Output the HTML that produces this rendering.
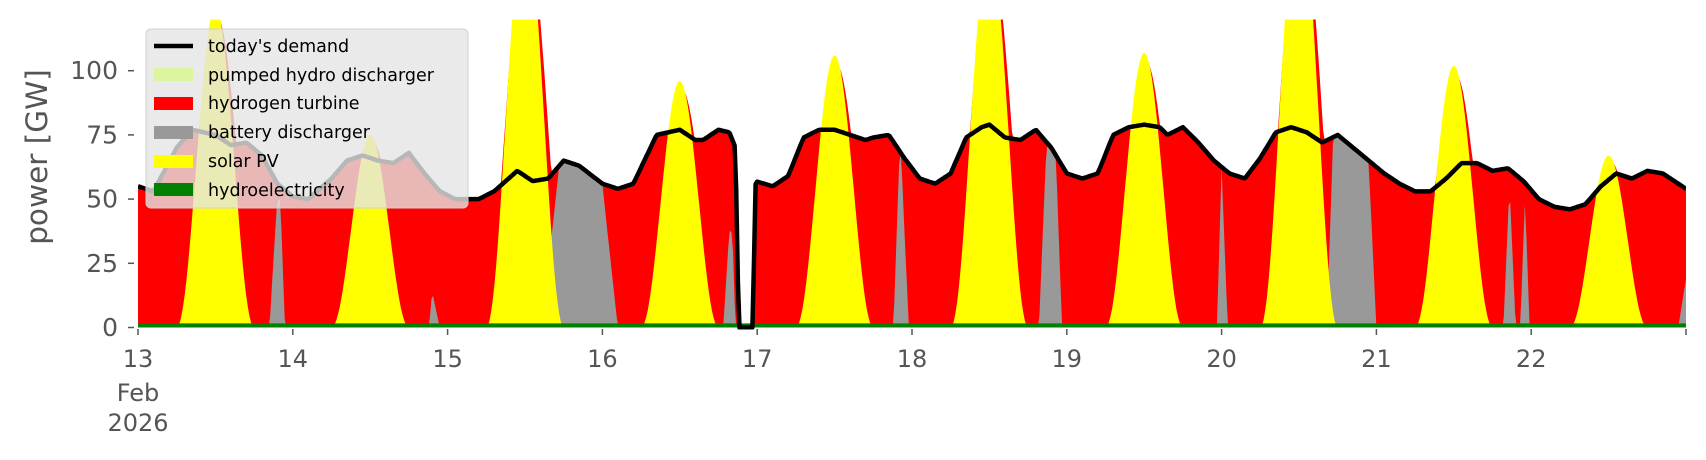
<!DOCTYPE html>
<html><head><meta charset="utf-8"><style>
html,body{margin:0;padding:0;background:#fff;}
svg{display:block;font-family:"DejaVu Sans","Liberation Sans",sans-serif;}
</style></head><body>
<svg id="s" width="1706" height="460" viewBox="0 0 1706 460" xmlns="http://www.w3.org/2000/svg">
<defs><clipPath id="c"><rect x="138" y="19.5" width="1548" height="310"/></clipPath></defs>
<g id="plot" clip-path="url(#c)"></g>
<g id="axes" fill="#555" font-size="24"></g>
<text x="0" y="0" transform="translate(47,157) rotate(-90)" text-anchor="middle" font-size="29.5" fill="#555">power [GW]</text>
<g>
<rect x="146" y="29" width="322" height="179" rx="5" fill="#e5e5e5" fill-opacity="0.8" stroke="#d0d0d0"/>
<line x1="154" y1="46" x2="193" y2="46" stroke="#000" stroke-width="4.5"/>
<rect x="154" y="68" width="39" height="13" fill="#dcf5a0"/>
<rect x="154" y="97" width="39" height="13" fill="#ff0000"/>
<rect x="154" y="126" width="39" height="13" fill="#999"/>
<rect x="154" y="155" width="39" height="13" fill="#ffff00"/>
<rect x="154" y="183" width="39" height="13" fill="#008000"/>
<g font-size="17.5" fill="#000">
<text x="208" y="52">today's demand</text>
<text x="208" y="81">pumped hydro discharger</text>
<text x="208" y="109">hydrogen turbine</text>
<text x="208" y="138">battery discharger</text>
<text x="208" y="167">solar PV</text>
<text x="208" y="196">hydroelectricity</text>
</g></g>
</svg>
<script>
var X=t=>138+(t-13)*154.8, Y=v=>327.5-v*2.568;
var dk=[[13,55],[13.1,53],[13.25,70],[13.35,77],[13.5,75],[13.6,71],[13.7,72],[13.8,67],[13.9,56],[14,51],[14.1,50],[14.25,58],[14.35,65],[14.45,67],[14.55,65],[14.65,64],[14.75,68],[14.85,60],[14.95,53],[15.05,50],[15.2,50],[15.3,53],[15.45,61],[15.55,57],[15.65,58],[15.75,65],[15.85,63],[16,56],[16.1,54],[16.2,56],[16.35,75],[16.5,77],[16.6,73],[16.65,73],[16.75,77],[16.82,76],[16.86,70],[16.88,0],[16.97,0],[16.99,57],[17.1,55],[17.2,59],[17.3,74],[17.4,77],[17.5,77],[17.6,75],[17.7,73],[17.75,74],[17.85,75],[17.95,66],[18.05,58],[18.15,56],[18.25,60],[18.35,74],[18.45,78],[18.5,79],[18.6,74],[18.7,73],[18.8,77],[18.9,70],[19,60],[19.1,58],[19.2,60],[19.3,75],[19.4,78],[19.5,79],[19.6,78],[19.65,75],[19.75,78],[19.85,72],[19.95,65],[20.05,60],[20.15,58],[20.25,66],[20.35,76],[20.45,78],[20.55,76],[20.65,72],[20.75,75],[20.85,70],[20.95,65],[21.05,60],[21.15,56],[21.25,53],[21.35,53],[21.45,58],[21.55,64],[21.65,64],[21.75,61],[21.85,62],[21.95,57],[22.05,50],[22.15,47],[22.25,46],[22.35,48],[22.45,55],[22.55,60],[22.65,58],[22.75,61],[22.85,60],[23,54]];
function D(t){for(var i=1;i<dk.length;i++)if(t<=dk[i][0]){var a=dk[i-1],b=dk[i];return a[1]+(b[1]-a[1])*(t-a[0])/(b[0]-a[0]);}return 54;}
var pk=[[13.5,125],[14.5,75],[15.5,160],[16.5,96],[17.5,106],[18.5,150],[19.5,107],[20.5,170],[21.5,102],[22.5,67]];
function S(t,w){var s=0;pk.forEach(p=>{var d=(t-p[0])/w;if(Math.abs(d)<0.5){var c=Math.cos(Math.PI*d);s=Math.max(s,p[1]*c*c);}});return s;}
var gr=[[13.85,13.9,13.92,13.95,0.9],[14.88,14.9,14.9,14.95,0.25],[15.6,15.72,16.0,16.1,1],[16.78,16.82,16.84,16.86,0.5],[17.88,17.92,17.93,17.98,1],[18.82,18.87,18.93,18.97,1],[19.97,20,20,20.04,1],[20.68,20.72,20.95,21.0,1],[21.82,21.86,21.86,21.9,0.9],[21.93,21.96,21.96,21.99,0.9],[22.95,23,23,23.05,0.35]];
function G(t){var f=0;gr.forEach(g=>{var v=0;if(t>g[0]&&t<g[3]){v=t<g[1]?(t-g[0])/(g[1]-g[0]):t>g[2]?(g[3]-t)/(g[3]-g[2]):1;}f=Math.max(f,v*g[4]);});return f*D(t);}
var N=960,T=[];for(var i=0;i<=N;i++)T.push(13+10*i/N);
function area(fn,col){var p='M'+X(13)+','+Y(0);T.forEach(t=>p+='L'+X(t).toFixed(1)+','+Y(fn(t)).toFixed(1));p+='L'+X(23)+','+Y(0)+'Z';return '<path d="'+p+'" fill="'+col+'"/>';}
var h='';
h+=area(t=>{var d=D(t);return d<1?0:Math.max(d,0.97*S(t-0.01,0.56));},'#ff0000');
h+=area(G,'#999');
h+=area(t=>S(t,0.5),'#ffff00');
h+=area(t=>1.6,'#008000');
var lp='';T.forEach((t,i)=>lp+=(i?'L':'M')+X(t).toFixed(1)+','+Y(D(t)).toFixed(1));
h+='<path d="'+lp+'" fill="none" stroke="#000" stroke-width="4.5" stroke-linejoin="round"/>';
document.getElementById('plot').innerHTML=h;
var a='';[0,25,50,75,100].forEach(v=>{var y=Y(v);a+='<line x1="128" x2="134" y1="'+y+'" y2="'+y+'" stroke="#555" stroke-width="1.5"/><text x="118" y="'+(y+8.5)+'" text-anchor="end" font-size="25">'+v+'</text>';});
for(var d=13;d<=23;d++){var x=X(d);a+='<line x1="'+x+'" x2="'+x+'" y1="329" y2="335" stroke="#555" stroke-width="1.5"/>';if(d<23)a+='<text x="'+x+'" y="367" text-anchor="middle">'+d+'</text>';}
a+='<text x="'+X(13)+'" y="401" text-anchor="middle">Feb</text><text x="'+X(13)+'" y="431" text-anchor="middle">2026</text>';
document.getElementById('axes').innerHTML=a;
</script>
</body></html>
